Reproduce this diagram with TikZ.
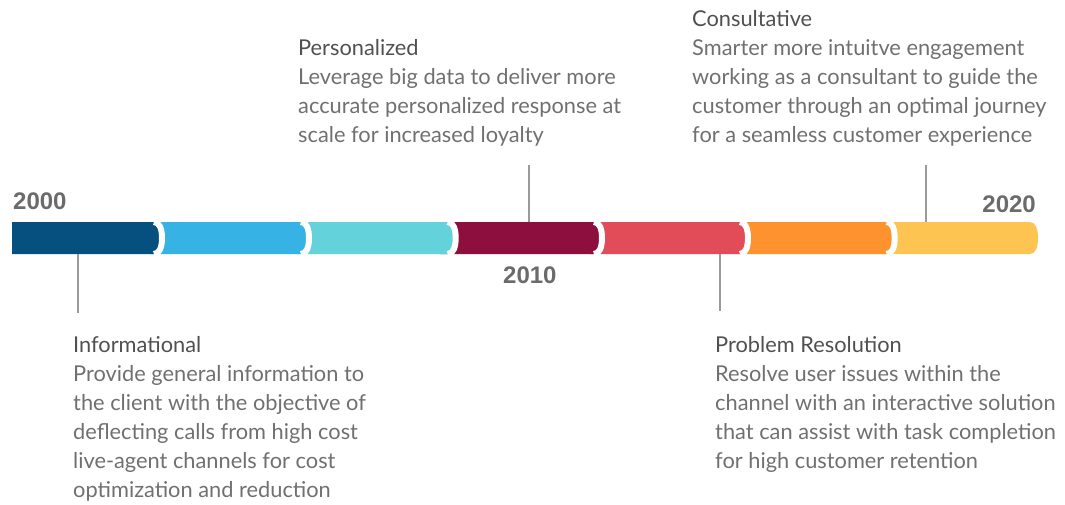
\documentclass[tikz,border=0pt]{standalone}
\usepackage{fontspec}
\setmainfont{Lato}
\newfontfamily\yearfont{Liberation Sans}
\definecolor{cA}{HTML}{05507F}
\definecolor{cB}{HTML}{36B3E4}
\definecolor{cC}{HTML}{64D2DA}
\definecolor{cD}{HTML}{8C0F3D}
\definecolor{cE}{HTML}{E24B58}
\definecolor{cF}{HTML}{FE922E}
\definecolor{cG}{HTML}{FEC451}
\definecolor{titlegray}{HTML}{505050}
\definecolor{bodygray}{HTML}{707070}
\definecolor{yeargray}{HTML}{6B6B6B}
\definecolor{linegray}{HTML}{9A9A9A}
\tikzset{
  ttl/.style={anchor=base west, inner sep=0pt, text=titlegray, font=\fontsize{21.8}{29}\selectfont},
  bdy/.style={anchor=base west, inner sep=0pt, text=bodygray, font=\fontsize{21.8}{29}\selectfont},
  yr/.style={inner sep=0pt, text=yeargray, font=\yearfont\bfseries\fontsize{24}{28}\selectfont},
  callout/.style={draw=linegray, line width=2pt},
  gap/.style={draw=white, line width=6pt}
}
% segment: #1 color, #2 left x, #3 tip x
\newcommand{\tlseg}[3]{%
  \fill[#1] (#2,222) -- ({#3-8},222) .. controls ({#3-2},222) and (#3,230) .. (#3,238)
     .. controls (#3,246) and ({#3-2},254) .. ({#3-8},254) -- (#2,254) -- cycle;}
\newcommand{\tlgap}[1]{%
  \draw[gap] ({#1-8},222) .. controls ({#1-2},222) and (#1,230) .. (#1,238)
     .. controls (#1,246) and ({#1-2},254) .. ({#1-8},254);}
\begin{document}
\begin{tikzpicture}[x=1pt,y=-1pt]
\useasboundingbox (0,0) rectangle (1065,504);
% bar segments drawn right to left
\tlseg{cG}{880}{1038}
\tlseg{cF}{735}{894.7}\tlgap{894.7}
\tlseg{cE}{590}{748}\tlgap{748}
\tlseg{cD}{440}{602}\tlgap{602}
\tlseg{cC}{295}{455.7}\tlgap{455.7}
\tlseg{cB}{150}{309}\tlgap{309}
\tlseg{cA}{12}{162}\tlgap{162}
% callout anchors
\coordinate (p1a) at (78,254); \coordinate (p1b) at (78,313);
\coordinate (p2a) at (529,222); \coordinate (p2b) at (529,165);
\coordinate (p3a) at (720,254); \coordinate (p3b) at (720,311);
\coordinate (p4a) at (926,222); \coordinate (p4b) at (926,165);
\draw[callout] (p1a) -- (p1b);
\draw[callout] (p2a) -- (p2b);
\draw[callout] (p3a) -- (p3b);
\draw[callout] (p4a) -- (p4b);
% years
\node[yr, anchor=base west] (y2000) at (13,209.5) {2000};
\node[yr, anchor=base west] (y2010) at (503,283.5) {2010};
\node[yr, anchor=base east] (y2020) at (1036,212.5) {2020};
% Personalized
\node[ttl] (pt) at (298,55) {Personalized};
\node[bdy] (p1) at (298,84) {Leverage big data to deliver more};
\node[bdy] (p2) at (298,113) {accurate personalized response at};
\node[bdy] (p3) at (298,142) {scale for increased loyalty};
% Consultative
\node[ttl] (ct) at (692,26) {Consultative};
\node[bdy] (c1) at (692,55) {Smarter more intuitve engagement};
\node[bdy] (c2) at (692,84) {working as a consultant to guide the};
\node[bdy] (c3) at (692,113) {customer through an optimal journey};
\node[bdy] (c4) at (692,142) {for a seamless customer experience};
% Informational
\node[ttl] (it) at (73,352) {Informational};
\node[bdy] (i1) at (73,381) {Provide general information to};
\node[bdy] (i2) at (73,410) {the client with the objective of};
\node[bdy] (i3) at (73,439) {deflecting calls from high cost};
\node[bdy] (i4) at (73,468) {live-agent channels for cost};
\node[bdy] (i5) at (73,497) {optimization and reduction};
% Problem Resolution
\node[ttl] (rt) at (715,352) {Problem Resolution};
\node[bdy] (r1) at (715,381) {Resolve user issues within the};
\node[bdy] (r2) at (715,410) {channel with an interactive solution};
\node[bdy] (r3) at (715,439) {that can assist with task completion};
\node[bdy] (r4) at (715,468) {for high customer retention};
\end{tikzpicture}
\end{document}
